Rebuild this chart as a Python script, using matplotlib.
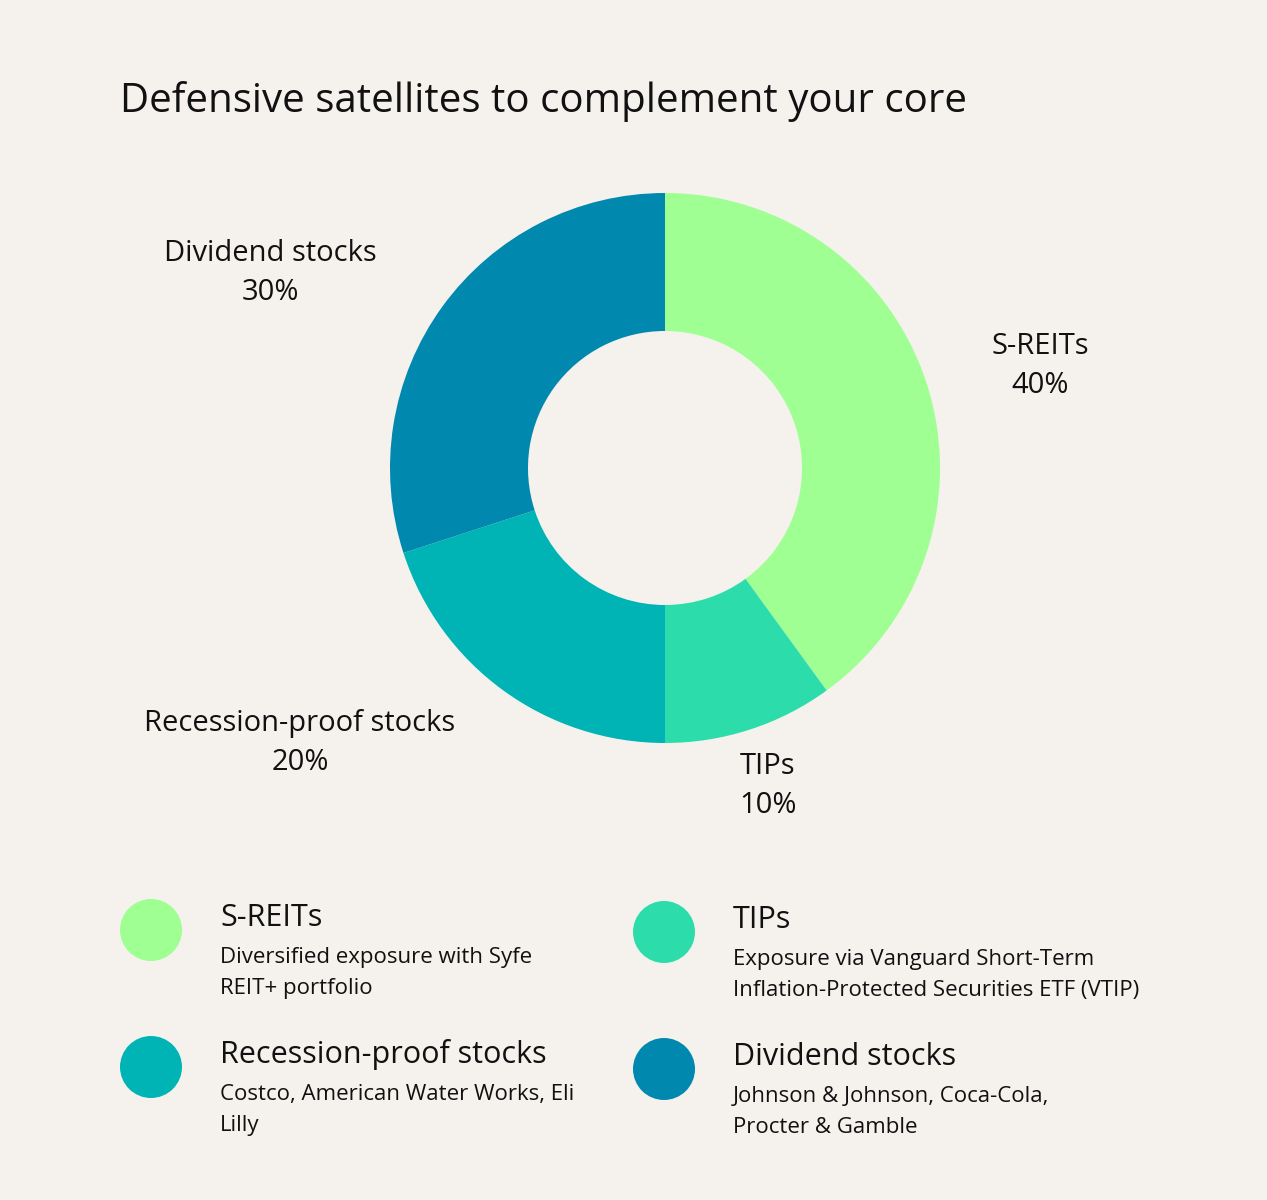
import matplotlib.pyplot as plt
import matplotlib.transforms as mtransforms
from matplotlib.patches import Circle

# data
categories = ["S-REITs", "TIPs", "Recession-proof stocks", "Dividend stocks"]
shares = [40, 10, 20, 30]
colors = ["#A0FF93", "#2CDDAB", "#00B4B6", "#0088AF"]
descriptions = [
    "Diversified exposure with Syfe\nREIT+ portfolio",
    "Exposure via Vanguard Short-Term\nInflation-Protected Securities ETF (VTIP)",
    "Costco, American Water Works, Eli\nLilly",
    "Johnson & Johnson, Coca-Cola,\nProcter & Gamble",
]

BG = "#F5F2EE"
W, H = 1267, 1200
plt.rcParams['font.family'] = ['Open Sans', 'DejaVu Sans']

fig = plt.figure(figsize=(W / 100, H / 100), dpi=100, facecolor=BG)
ax = fig.add_axes([0, 0, 1, 1])
ax.set_facecolor(BG)

ax.text(120, 102, "Defensive satellites to complement your core",
        fontsize=29, va="center", ha="left", color="#111111")

# donut (pie draws with y up, so mirror around the centre)
cx, cy, R = 665, 468, 275
wedges, _ = ax.pie(shares, colors=colors, startangle=90, counterclock=False,
                   center=(cx, cy), radius=R, frame=True,
                   wedgeprops=dict(width=138, linewidth=0))
flip = mtransforms.Affine2D().translate(-cx, -cy).scale(1, -1).translate(cx, cy)
for w in wedges:
    w.set_transform(flip + ax.transData)
ax.set_xlim(0, W)
ax.set_ylim(H, 0)
ax.set_aspect("equal")
ax.axis("off")

label_pos = [(1040, 366), (768, 786), (300, 743), (270, 273)]
for name, val, (lx, ly) in zip(categories, shares, label_pos):
    ax.text(lx, ly, f"{name}\n{val}%", fontsize=21, ha="center", va="center",
            linespacing=1.45, color="#111111")

# legend
leg_pos = [(151, 930), (664, 932), (151, 1067), (664, 1069)]
for name, desc, col, (px, py) in zip(categories, descriptions, colors, leg_pos):
    ax.add_patch(Circle((px, py), 31, color=col, lw=0))
    ax.text(px + 69, py - 12, name, fontsize=22, ha="left", va="center",
            color="#111111")
    ax.text(px + 69, py + 43, desc, fontsize=16, ha="left", va="center",
            linespacing=1.65, color="#111111")

fig.savefig("out.png", dpi=100, facecolor=BG)
